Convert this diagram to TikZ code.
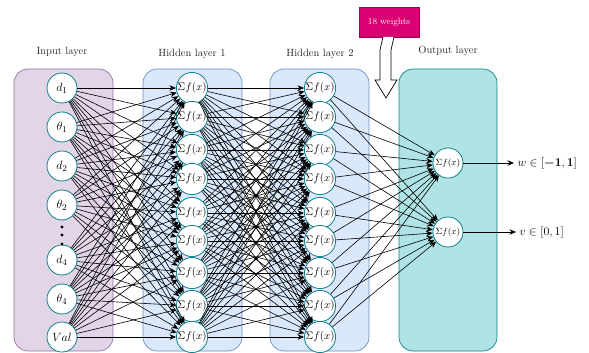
\documentclass[tikz,border=0pt]{standalone}
\usepackage{amsmath}
\usetikzlibrary{arrows.meta}

\definecolor{inputfill}{HTML}{E1D5E7}
\definecolor{inputline}{HTML}{9673A6}
\definecolor{hiddenfill}{HTML}{DAE8FC}
\definecolor{hiddenline}{HTML}{6C8EBF}
\definecolor{outputfill}{HTML}{B0E3E6}
\definecolor{outputline}{HTML}{0E8088}
\definecolor{weightfill}{HTML}{D80073}
\definecolor{weightline}{HTML}{A50040}

\begin{document}
\begin{tikzpicture}[x=1pt, y=-1pt, >={Stealth[length=6.5pt, width=5.5pt]},
    neuron/.style={circle, draw=outputline, fill=white, line width=0.8pt,
        minimum size=30pt, inner sep=0pt, font=\fontsize{11}{13}\selectfont},
    layerbox/.style={rounded corners=14pt, line width=0.7pt},
    layertitle/.style={font=\fontsize{10.5}{12}\selectfont, text=black!85},
    link/.style={->, line width=0.6pt}]
    \useasboundingbox (0,0) rectangle (589,353);

    % layer boxes
    \filldraw[layerbox, fill=inputfill, draw=inputline] (14,69) rectangle (113,351);
    \filldraw[layerbox, fill=hiddenfill, draw=hiddenline] (143,69) rectangle (242,351);
    \filldraw[layerbox, fill=hiddenfill, draw=hiddenline] (270,69) rectangle (369,351);
    \filldraw[layerbox, fill=outputfill, draw=outputline] (399,69) rectangle (497,351);

    \node[layertitle] (tin) at (62,52) {Input layer};
    \node[layertitle] (thone) at (192,54) {Hidden layer 1};
    \node[layertitle] (thtwo) at (320,54) {Hidden layer 2};
    \node[layertitle] (tout) at (448,51) {Output layer};

    % input neurons
    \foreach \i/\y/\lab in {1/88/d_1, 2/127/\theta_1, 3/166/d_2, 4/205/\theta_2,
        5/260/d_4, 6/299/\theta_4, 7/337/Val}
        \node[neuron, font=\fontsize{13}{15}\selectfont] (in\i) at (62,\y) {$\lab$};
    \foreach \y in {227,235,244}
        \fill (62,\y) circle(1.6pt);

    % hidden neurons
    \foreach \j/\y in {1/88, 2/117, 3/150, 4/179, 5/213, 6/241, 7/273, 8/306, 9/337} {
        \node[neuron] (ha\j) at (192,\y) {$\Sigma f(x)$};
        \node[neuron] (hb\j) at (320,\y) {$\Sigma f(x)$};
    }

    % output neurons
    \node[neuron, font=\small] (out1) at (448,163) {$\Sigma f(x)$};
    \node[neuron, font=\small] (out2) at (448,232) {$\Sigma f(x)$};

    % connections
    \foreach \i in {1,...,7}
        \foreach \j in {1,...,9}
            \draw[link] (in\i) -- (ha\j);
    \foreach \i in {1,...,9}
        \foreach \j in {1,...,9}
            \draw[link] (ha\i) -- (hb\j);
    \foreach \i in {1,...,9}
        \foreach \j in {1,2}
            \draw[link] (hb\i) -- (out\j);

    % outputs
    \node[font=\fontsize{13}{15}\selectfont, anchor=west] (wlab) at (514,163) {$w \in [\boldsymbol{-1}, \boldsymbol{1}]$};
    \node[font=\fontsize{13}{15}\selectfont, anchor=west] (vlab) at (516,232) {$v \in [0,1]$};
    \draw[link, line width=0.8pt] (out1) -- (wlab);
    \draw[link, line width=0.8pt] (out2) -- (vlab);

    % weights note
    \node[draw=weightline, fill=weightfill, text=white, font=\small,
        minimum width=60pt, minimum height=30pt] (weights) at (389,22) {18 weights};
    \draw[fill=white, line width=0.7pt] (383,37) -- (380,50) -- (380,80) -- (375,80)
        -- (386,98) -- (397,80) -- (391,80) -- (391,50) -- (394,37);
\end{tikzpicture}
\end{document}
